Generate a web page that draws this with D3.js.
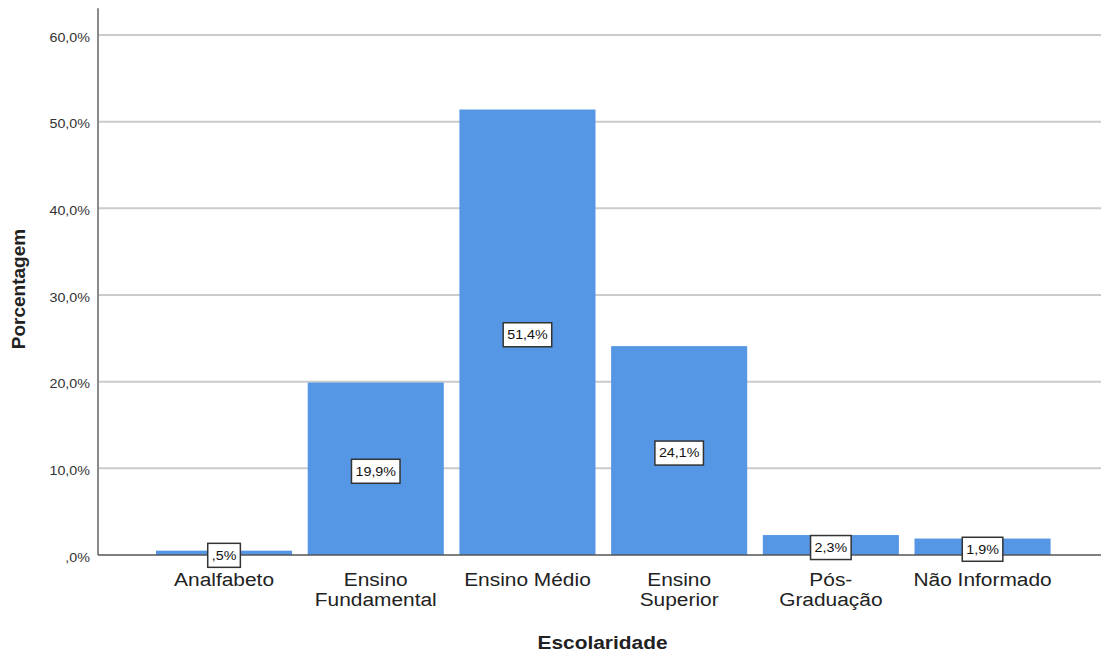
<!DOCTYPE html>
<html>
<head>
<meta charset="utf-8">
<script src="https://cdn.jsdelivr.net/npm/d3@7"></script>
<style>
  html, body { margin: 0; padding: 0; background: #ffffff; }
  svg { display: block; font-family: "Liberation Sans", Arial, sans-serif; }
</style>
</head>
<body>
<svg id="chart" width="1104" height="652"></svg>
<script>
// Escolaridade: distribuição percentual
const categories = ["Analfabeto", "Ensino Fundamental", "Ensino Médio", "Ensino Superior", "Pós-Graduação", "Não Informado"];
const categoryLines = [["Analfabeto"], ["Ensino", "Fundamental"], ["Ensino Médio"], ["Ensino", "Superior"], ["Pós-", "Graduação"], ["Não Informado"]];
const percentages = [0.5, 19.9, 51.4, 24.1, 2.3, 1.9];
const yTicks = [0, 10, 20, 30, 40, 50, 60];
const xTitle = "Escolaridade";
const yTitle = "Porcentagem";

const svg = d3.select("#chart");
const stretch = 1.1;

// SPSS-style percent: comma decimal, no leading zero
const fmt = v => {
  let s = v.toFixed(1).replace(".", ",");
  if (s.startsWith("0,")) s = s.slice(1);
  return s + "%";
};

const left = 98, right = 1101;
const y = d3.scaleLinear().domain([0, 60]).range([555, 35]);
const x = d3.scaleBand().domain(categories).range([148.2, 1058.4]).paddingInner(0.103).paddingOuter(0.0515);

// grid lines
svg.append("g").selectAll("line").data(yTicks.filter(t => t > 0)).join("line")
  .attr("x1", left).attr("x2", right)
  .attr("y1", d => y(d)).attr("y2", d => y(d))
  .attr("stroke", "#cbcbcb").attr("stroke-width", 2);

// tick labels
svg.append("g").selectAll("text").data(yTicks).join("text")
  .attr("transform", d => `translate(90,${y(d) + 2.5}) scale(${stretch},1)`)
  .attr("text-anchor", "end").attr("dominant-baseline", "central")
  .attr("font-size", 13).attr("fill", "#333")
  .text(d => fmt(d));

// bars
svg.append("g").selectAll("rect").data(categories).join("rect")
  .attr("x", d => x(d))
  .attr("width", x.bandwidth())
  .attr("y", (d, i) => y(percentages[i]))
  .attr("height", (d, i) => y(0) - y(percentages[i]))
  .attr("fill", "#5596e5");

// axes lines
svg.append("line").attr("x1", left).attr("x2", left).attr("y1", y(63.1)).attr("y2", y(0))
  .attr("stroke", "#8a8a8a").attr("stroke-width", 2);
svg.append("line").attr("x1", left).attr("x2", right).attr("y1", y(0)).attr("y2", y(0))
  .attr("stroke", "#555").attr("stroke-width", 1.5);

// value labels
const labels = svg.append("g").selectAll("g").data(categories).join("g")
  .attr("transform", (d, i) => `translate(${x(d) + x.bandwidth() / 2},${(y(percentages[i]) + y(0)) / 2 + 2.5})`);
labels.each(function(d, i) {
  const g = d3.select(this);
  const rect = g.append("rect");
  const t = g.append("text")
    .attr("transform", `scale(${stretch},1)`)
    .attr("text-anchor", "middle").attr("dominant-baseline", "central")
    .attr("font-size", 13).attr("fill", "#111")
    .text(fmt(percentages[i]));
  const w = t.node().getComputedTextLength() * stretch + 8;
  rect.attr("x", -w / 2).attr("y", -12).attr("width", w).attr("height", 24)
    .attr("fill", "#fff").attr("stroke", "#333").attr("stroke-width", 1.5);
});

// category labels
const cat = svg.append("g").selectAll("g").data(categories).join("g");
cat.each(function(d, i) {
  const g = d3.select(this);
  categoryLines[i].forEach((line, k) => {
    g.append("text")
      .attr("transform", `translate(${x(d) + x.bandwidth() / 2},${586 + k * 19.5}) scale(${stretch},1)`)
      .attr("text-anchor", "middle")
      .attr("font-size", 19).attr("fill", "#222")
      .text(line);
  });
});

// axis titles
svg.append("text")
  .attr("transform", `translate(${(left + right) / 2 + 3},649) scale(${stretch},1)`)
  .attr("text-anchor", "middle").attr("font-weight", "bold")
  .attr("font-size", 19).attr("fill", "#222")
  .text(xTitle);
svg.append("text")
  .attr("transform", `translate(25,289) rotate(-90)`)
  .attr("text-anchor", "middle").attr("font-weight", "bold")
  .attr("font-size", 19).attr("fill", "#222")
  .text(yTitle);
</script>
</body>
</html>
